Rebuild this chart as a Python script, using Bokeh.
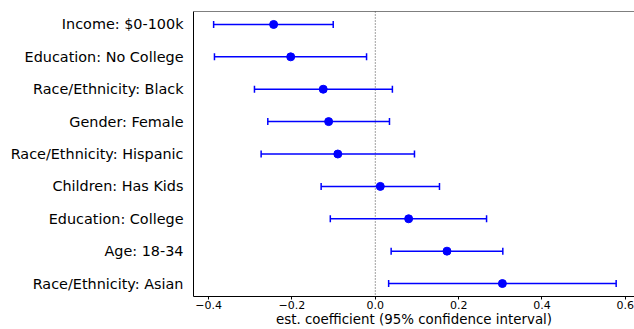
from bokeh.plotting import figure
from bokeh.models import ColumnDataSource, Range1d, FixedTicker, Whisker, TeeHead, Span
from bokeh.embed import file_html
from bokeh.resources import INLINE

labels = ["Income: $0-100k", "Education: No College", "Race/Ethnicity: Black",
          "Gender: Female", "Race/Ethnicity: Hispanic", "Children: Has Kids",
          "Education: College", "Age: 18-34", "Race/Ethnicity: Asian"]
coef = [-0.244, -0.203, -0.125, -0.112, -0.090, 0.012, 0.080, 0.172, 0.305]
lower = [-0.388, -0.386, -0.290, -0.258, -0.274, -0.130, -0.108, 0.038, 0.032]
upper = [-0.101, -0.021, 0.041, 0.034, 0.094, 0.154, 0.267, 0.306, 0.578]

x_ticks = [-0.4, -0.2, 0.0, 0.2, 0.4, 0.6]
x_tick_labels = ["\u22120.4", "\u22120.2", "0.0", "0.2", "0.4", "0.6"]
x_label = "est. coefficient (95% confidence interval)"

pos = list(range(len(labels)))
src = ColumnDataSource(dict(y=pos, coef=coef, lower=lower, upper=upper))

FONT = "DejaVu Sans"
BLUE = "#0000ff"

p = figure(width=634, height=329, output_backend="svg", toolbar_location=None,
           x_range=Range1d(-0.4363, 0.622), y_range=Range1d(len(labels) - 0.6, -0.4),
           min_border_left=193, min_border_top=11, min_border_right=0, min_border_bottom=0)
p.outline_line_color = None
p.grid.visible = False
p.background_fill_color = "white"

# axes
p.xaxis.ticker = FixedTicker(ticks=x_ticks)
p.xaxis.major_label_overrides = {t: s for t, s in zip(x_ticks, x_tick_labels)}
p.xaxis.axis_label = x_label
p.xaxis.axis_label_text_font = FONT
p.xaxis.axis_label_text_font_size = "13.4px"
p.xaxis.axis_label_text_font_style = "normal"
p.xaxis.axis_label_text_color = "black"
p.xaxis.axis_label_standoff = 0
p.xaxis.major_label_text_font = FONT
p.xaxis.major_label_text_font_size = "11px"
p.xaxis.major_label_text_color = "black"
p.xaxis.major_label_standoff = 1
p.xaxis.major_tick_out = 3
p.xaxis.major_tick_in = 0
p.xaxis.minor_tick_line_color = None
p.xaxis.axis_line_color = "black"
p.xaxis.major_tick_line_color = "black"

p.yaxis.ticker = FixedTicker(ticks=pos)
p.yaxis.major_label_overrides = {i: s for i, s in zip(pos, labels)}
p.yaxis.major_label_text_font = FONT
p.yaxis.major_label_text_font_size = "14.4px"
p.yaxis.major_label_text_color = "black"
p.yaxis.major_label_standoff = 10
p.yaxis.major_tick_out = 0
p.yaxis.major_tick_in = 0
p.yaxis.major_tick_line_color = None
p.yaxis.minor_tick_line_color = None
p.yaxis.axis_line_color = "black"

# top spine
p.add_layout(Span(location=-0.4, dimension="width", line_color="black", line_width=1))
# zero reference
p.add_layout(Span(location=0, dimension="height", line_color="#444444",
                  line_width=1, line_dash="1 2", level="underlay"))

w = Whisker(source=src, base="y", lower="lower", upper="upper", dimension="width",
            line_color=BLUE, line_width=1.5,
            upper_head=TeeHead(size=7, line_color=BLUE, line_width=1.5),
            lower_head=TeeHead(size=7, line_color=BLUE, line_width=1.5))
p.add_layout(w)
p.scatter(x="coef", y="y", source=src, size=8, color=BLUE)

open("out.html", "w").write(file_html(p, INLINE))
